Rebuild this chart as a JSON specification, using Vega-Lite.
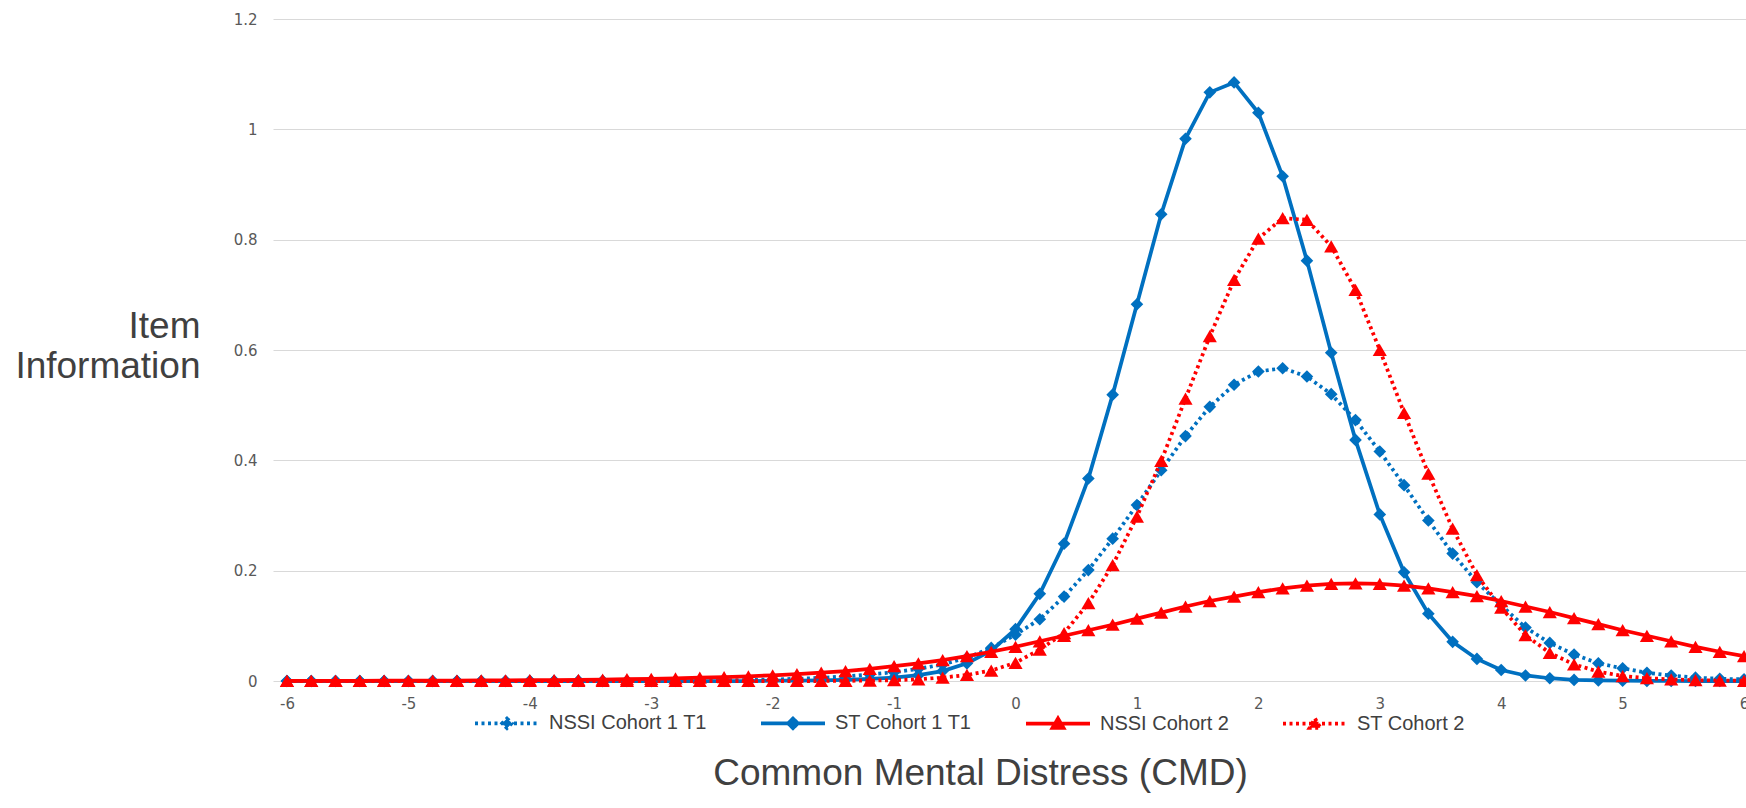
{
  "$schema": "https://vega.github.io/schema/vega-lite/v6.json",
  "width": 1473,
  "height": 662,
  "autosize": {"type": "none"},
  "padding": {"left": 273, "top": 19, "right": 0, "bottom": 127},
  "background": "#ffffff",
  "config": {"view": {"stroke": null}},
  "data": {"values": [
    {"s":"NSSI Cohort 1 T1","x":-6,"y":0},{"s":"NSSI Cohort 1 T1","x":-5.8,"y":0},{"s":"NSSI Cohort 1 T1","x":-5.6,"y":0},{"s":"NSSI Cohort 1 T1","x":-5.4,"y":0},{"s":"NSSI Cohort 1 T1","x":-5.2,"y":0},{"s":"NSSI Cohort 1 T1","x":-5,"y":0},{"s":"NSSI Cohort 1 T1","x":-4.8,"y":0},{"s":"NSSI Cohort 1 T1","x":-4.6,"y":0},{"s":"NSSI Cohort 1 T1","x":-4.4,"y":0},{"s":"NSSI Cohort 1 T1","x":-4.2,"y":0},
    {"s":"NSSI Cohort 1 T1","x":-4,"y":0.0001},{"s":"NSSI Cohort 1 T1","x":-3.8,"y":0.0001},{"s":"NSSI Cohort 1 T1","x":-3.6,"y":0.0001},{"s":"NSSI Cohort 1 T1","x":-3.4,"y":0.0002},{"s":"NSSI Cohort 1 T1","x":-3.2,"y":0.0002},{"s":"NSSI Cohort 1 T1","x":-3,"y":0.0003},{"s":"NSSI Cohort 1 T1","x":-2.8,"y":0.0005},{"s":"NSSI Cohort 1 T1","x":-2.6,"y":0.0008},{"s":"NSSI Cohort 1 T1","x":-2.4,"y":0.0012},{"s":"NSSI Cohort 1 T1","x":-2.2,"y":0.0018},
    {"s":"NSSI Cohort 1 T1","x":-2,"y":0.0027},{"s":"NSSI Cohort 1 T1","x":-1.8,"y":0.004},{"s":"NSSI Cohort 1 T1","x":-1.6,"y":0.0058},{"s":"NSSI Cohort 1 T1","x":-1.4,"y":0.0083},{"s":"NSSI Cohort 1 T1","x":-1.2,"y":0.012},{"s":"NSSI Cohort 1 T1","x":-1,"y":0.016},{"s":"NSSI Cohort 1 T1","x":-0.8,"y":0.022},{"s":"NSSI Cohort 1 T1","x":-0.6,"y":0.03},{"s":"NSSI Cohort 1 T1","x":-0.4,"y":0.042},{"s":"NSSI Cohort 1 T1","x":-0.2,"y":0.06},
    {"s":"NSSI Cohort 1 T1","x":0,"y":0.084},{"s":"NSSI Cohort 1 T1","x":0.2,"y":0.112},{"s":"NSSI Cohort 1 T1","x":0.4,"y":0.153},{"s":"NSSI Cohort 1 T1","x":0.6,"y":0.201},{"s":"NSSI Cohort 1 T1","x":0.8,"y":0.258},{"s":"NSSI Cohort 1 T1","x":1,"y":0.319},{"s":"NSSI Cohort 1 T1","x":1.2,"y":0.382},{"s":"NSSI Cohort 1 T1","x":1.4,"y":0.444},{"s":"NSSI Cohort 1 T1","x":1.6,"y":0.497},{"s":"NSSI Cohort 1 T1","x":1.8,"y":0.537},
    {"s":"NSSI Cohort 1 T1","x":2,"y":0.561},{"s":"NSSI Cohort 1 T1","x":2.2,"y":0.567},{"s":"NSSI Cohort 1 T1","x":2.4,"y":0.552},{"s":"NSSI Cohort 1 T1","x":2.6,"y":0.52},{"s":"NSSI Cohort 1 T1","x":2.8,"y":0.473},{"s":"NSSI Cohort 1 T1","x":3,"y":0.416},{"s":"NSSI Cohort 1 T1","x":3.2,"y":0.355},{"s":"NSSI Cohort 1 T1","x":3.4,"y":0.291},{"s":"NSSI Cohort 1 T1","x":3.6,"y":0.231},{"s":"NSSI Cohort 1 T1","x":3.8,"y":0.179},
    {"s":"NSSI Cohort 1 T1","x":4,"y":0.137},{"s":"NSSI Cohort 1 T1","x":4.2,"y":0.097},{"s":"NSSI Cohort 1 T1","x":4.4,"y":0.069},{"s":"NSSI Cohort 1 T1","x":4.6,"y":0.048},{"s":"NSSI Cohort 1 T1","x":4.8,"y":0.032},{"s":"NSSI Cohort 1 T1","x":5,"y":0.023},{"s":"NSSI Cohort 1 T1","x":5.2,"y":0.015},{"s":"NSSI Cohort 1 T1","x":5.4,"y":0.01},{"s":"NSSI Cohort 1 T1","x":5.6,"y":0.006},{"s":"NSSI Cohort 1 T1","x":5.8,"y":0.004},{"s":"NSSI Cohort 1 T1","x":6,"y":0.003},

    {"s":"ST Cohort 1 T1","x":-6,"y":0},{"s":"ST Cohort 1 T1","x":-5.8,"y":0},{"s":"ST Cohort 1 T1","x":-5.6,"y":0},{"s":"ST Cohort 1 T1","x":-5.4,"y":0},{"s":"ST Cohort 1 T1","x":-5.2,"y":0},{"s":"ST Cohort 1 T1","x":-5,"y":0},{"s":"ST Cohort 1 T1","x":-4.8,"y":0},{"s":"ST Cohort 1 T1","x":-4.6,"y":0},{"s":"ST Cohort 1 T1","x":-4.4,"y":0},{"s":"ST Cohort 1 T1","x":-4.2,"y":0},
    {"s":"ST Cohort 1 T1","x":-4,"y":0},{"s":"ST Cohort 1 T1","x":-3.8,"y":0},{"s":"ST Cohort 1 T1","x":-3.6,"y":0},{"s":"ST Cohort 1 T1","x":-3.4,"y":0},{"s":"ST Cohort 1 T1","x":-3.2,"y":0},{"s":"ST Cohort 1 T1","x":-3,"y":0},{"s":"ST Cohort 1 T1","x":-2.8,"y":0},{"s":"ST Cohort 1 T1","x":-2.6,"y":0},{"s":"ST Cohort 1 T1","x":-2.4,"y":0},{"s":"ST Cohort 1 T1","x":-2.2,"y":0},
    {"s":"ST Cohort 1 T1","x":-2,"y":0.0005},{"s":"ST Cohort 1 T1","x":-1.8,"y":0.0008},{"s":"ST Cohort 1 T1","x":-1.6,"y":0.0013},{"s":"ST Cohort 1 T1","x":-1.4,"y":0.0022},{"s":"ST Cohort 1 T1","x":-1.2,"y":0.0037},{"s":"ST Cohort 1 T1","x":-1,"y":0.0062},{"s":"ST Cohort 1 T1","x":-0.8,"y":0.0105},{"s":"ST Cohort 1 T1","x":-0.6,"y":0.018},{"s":"ST Cohort 1 T1","x":-0.4,"y":0.032},{"s":"ST Cohort 1 T1","x":-0.2,"y":0.055},
    {"s":"ST Cohort 1 T1","x":0,"y":0.094},{"s":"ST Cohort 1 T1","x":0.2,"y":0.158},{"s":"ST Cohort 1 T1","x":0.4,"y":0.249},{"s":"ST Cohort 1 T1","x":0.6,"y":0.367},{"s":"ST Cohort 1 T1","x":0.8,"y":0.519},{"s":"ST Cohort 1 T1","x":1,"y":0.683},{"s":"ST Cohort 1 T1","x":1.2,"y":0.846},{"s":"ST Cohort 1 T1","x":1.4,"y":0.983},{"s":"ST Cohort 1 T1","x":1.6,"y":1.067},{"s":"ST Cohort 1 T1","x":1.8,"y":1.085},
    {"s":"ST Cohort 1 T1","x":2,"y":1.03},{"s":"ST Cohort 1 T1","x":2.2,"y":0.915},{"s":"ST Cohort 1 T1","x":2.4,"y":0.762},{"s":"ST Cohort 1 T1","x":2.6,"y":0.595},{"s":"ST Cohort 1 T1","x":2.8,"y":0.437},{"s":"ST Cohort 1 T1","x":3,"y":0.302},{"s":"ST Cohort 1 T1","x":3.2,"y":0.197},{"s":"ST Cohort 1 T1","x":3.4,"y":0.122},{"s":"ST Cohort 1 T1","x":3.6,"y":0.071},{"s":"ST Cohort 1 T1","x":3.8,"y":0.04},
    {"s":"ST Cohort 1 T1","x":4,"y":0.02},{"s":"ST Cohort 1 T1","x":4.2,"y":0.01},{"s":"ST Cohort 1 T1","x":4.4,"y":0.005},{"s":"ST Cohort 1 T1","x":4.6,"y":0.002},{"s":"ST Cohort 1 T1","x":4.8,"y":0.001},{"s":"ST Cohort 1 T1","x":5,"y":0.0005},{"s":"ST Cohort 1 T1","x":5.2,"y":0.0002},{"s":"ST Cohort 1 T1","x":5.4,"y":0.0001},{"s":"ST Cohort 1 T1","x":5.6,"y":0},{"s":"ST Cohort 1 T1","x":5.8,"y":0},{"s":"ST Cohort 1 T1","x":6,"y":0},

    {"s":"NSSI Cohort 2","x":-6,"y":0.0002},{"s":"NSSI Cohort 2","x":-5.8,"y":0.0003},{"s":"NSSI Cohort 2","x":-5.6,"y":0.0003},{"s":"NSSI Cohort 2","x":-5.4,"y":0.0004},{"s":"NSSI Cohort 2","x":-5.2,"y":0.0005},{"s":"NSSI Cohort 2","x":-5,"y":0.0006},{"s":"NSSI Cohort 2","x":-4.8,"y":0.0007},{"s":"NSSI Cohort 2","x":-4.6,"y":0.0008},{"s":"NSSI Cohort 2","x":-4.4,"y":0.001},{"s":"NSSI Cohort 2","x":-4.2,"y":0.0012},
    {"s":"NSSI Cohort 2","x":-4,"y":0.0015},{"s":"NSSI Cohort 2","x":-3.8,"y":0.0018},{"s":"NSSI Cohort 2","x":-3.6,"y":0.0022},{"s":"NSSI Cohort 2","x":-3.4,"y":0.0027},{"s":"NSSI Cohort 2","x":-3.2,"y":0.0033},{"s":"NSSI Cohort 2","x":-3,"y":0.004},{"s":"NSSI Cohort 2","x":-2.8,"y":0.0049},{"s":"NSSI Cohort 2","x":-2.6,"y":0.0059},{"s":"NSSI Cohort 2","x":-2.4,"y":0.0071},{"s":"NSSI Cohort 2","x":-2.2,"y":0.0086},
    {"s":"NSSI Cohort 2","x":-2,"y":0.0104},{"s":"NSSI Cohort 2","x":-1.8,"y":0.0125},{"s":"NSSI Cohort 2","x":-1.6,"y":0.015},{"s":"NSSI Cohort 2","x":-1.4,"y":0.018},{"s":"NSSI Cohort 2","x":-1.2,"y":0.022},{"s":"NSSI Cohort 2","x":-1,"y":0.027},{"s":"NSSI Cohort 2","x":-0.8,"y":0.032},{"s":"NSSI Cohort 2","x":-0.6,"y":0.038},{"s":"NSSI Cohort 2","x":-0.4,"y":0.045},{"s":"NSSI Cohort 2","x":-0.2,"y":0.053},
    {"s":"NSSI Cohort 2","x":0,"y":0.062},{"s":"NSSI Cohort 2","x":0.2,"y":0.072},{"s":"NSSI Cohort 2","x":0.4,"y":0.082},{"s":"NSSI Cohort 2","x":0.6,"y":0.092},{"s":"NSSI Cohort 2","x":0.8,"y":0.102},{"s":"NSSI Cohort 2","x":1,"y":0.113},{"s":"NSSI Cohort 2","x":1.2,"y":0.124},{"s":"NSSI Cohort 2","x":1.4,"y":0.135},{"s":"NSSI Cohort 2","x":1.6,"y":0.145},{"s":"NSSI Cohort 2","x":1.8,"y":0.153},
    {"s":"NSSI Cohort 2","x":2,"y":0.161},{"s":"NSSI Cohort 2","x":2.2,"y":0.168},{"s":"NSSI Cohort 2","x":2.4,"y":0.173},{"s":"NSSI Cohort 2","x":2.6,"y":0.176},{"s":"NSSI Cohort 2","x":2.8,"y":0.177},{"s":"NSSI Cohort 2","x":3,"y":0.176},{"s":"NSSI Cohort 2","x":3.2,"y":0.173},{"s":"NSSI Cohort 2","x":3.4,"y":0.168},{"s":"NSSI Cohort 2","x":3.6,"y":0.161},{"s":"NSSI Cohort 2","x":3.8,"y":0.154},
    {"s":"NSSI Cohort 2","x":4,"y":0.145},{"s":"NSSI Cohort 2","x":4.2,"y":0.135},{"s":"NSSI Cohort 2","x":4.4,"y":0.125},{"s":"NSSI Cohort 2","x":4.6,"y":0.114},{"s":"NSSI Cohort 2","x":4.8,"y":0.103},{"s":"NSSI Cohort 2","x":5,"y":0.092},{"s":"NSSI Cohort 2","x":5.2,"y":0.082},{"s":"NSSI Cohort 2","x":5.4,"y":0.072},{"s":"NSSI Cohort 2","x":5.6,"y":0.062},{"s":"NSSI Cohort 2","x":5.8,"y":0.053},{"s":"NSSI Cohort 2","x":6,"y":0.045},

    {"s":"ST Cohort 2","x":-6,"y":0},{"s":"ST Cohort 2","x":-5.8,"y":0},{"s":"ST Cohort 2","x":-5.6,"y":0},{"s":"ST Cohort 2","x":-5.4,"y":0},{"s":"ST Cohort 2","x":-5.2,"y":0},{"s":"ST Cohort 2","x":-5,"y":0},{"s":"ST Cohort 2","x":-4.8,"y":0},{"s":"ST Cohort 2","x":-4.6,"y":0},{"s":"ST Cohort 2","x":-4.4,"y":0},{"s":"ST Cohort 2","x":-4.2,"y":0},
    {"s":"ST Cohort 2","x":-4,"y":0},{"s":"ST Cohort 2","x":-3.8,"y":0},{"s":"ST Cohort 2","x":-3.6,"y":0},{"s":"ST Cohort 2","x":-3.4,"y":0},{"s":"ST Cohort 2","x":-3.2,"y":0},{"s":"ST Cohort 2","x":-3,"y":0},{"s":"ST Cohort 2","x":-2.8,"y":0},{"s":"ST Cohort 2","x":-2.6,"y":0},{"s":"ST Cohort 2","x":-2.4,"y":0},{"s":"ST Cohort 2","x":-2.2,"y":0},
    {"s":"ST Cohort 2","x":-2,"y":0},{"s":"ST Cohort 2","x":-1.8,"y":0},{"s":"ST Cohort 2","x":-1.6,"y":0},{"s":"ST Cohort 2","x":-1.4,"y":0.0003},{"s":"ST Cohort 2","x":-1.2,"y":0.0007},{"s":"ST Cohort 2","x":-1,"y":0.0015},{"s":"ST Cohort 2","x":-0.8,"y":0.003},{"s":"ST Cohort 2","x":-0.6,"y":0.0062},{"s":"ST Cohort 2","x":-0.4,"y":0.011},{"s":"ST Cohort 2","x":-0.2,"y":0.019},
    {"s":"ST Cohort 2","x":0,"y":0.033},{"s":"ST Cohort 2","x":0.2,"y":0.057},{"s":"ST Cohort 2","x":0.4,"y":0.087},{"s":"ST Cohort 2","x":0.6,"y":0.141},{"s":"ST Cohort 2","x":0.8,"y":0.21},{"s":"ST Cohort 2","x":1,"y":0.298},{"s":"ST Cohort 2","x":1.2,"y":0.399},{"s":"ST Cohort 2","x":1.4,"y":0.512},{"s":"ST Cohort 2","x":1.6,"y":0.625},{"s":"ST Cohort 2","x":1.8,"y":0.727},
    {"s":"ST Cohort 2","x":2,"y":0.802},{"s":"ST Cohort 2","x":2.2,"y":0.839},{"s":"ST Cohort 2","x":2.4,"y":0.836},{"s":"ST Cohort 2","x":2.6,"y":0.788},{"s":"ST Cohort 2","x":2.8,"y":0.709},{"s":"ST Cohort 2","x":3,"y":0.6},{"s":"ST Cohort 2","x":3.2,"y":0.486},{"s":"ST Cohort 2","x":3.4,"y":0.376},{"s":"ST Cohort 2","x":3.6,"y":0.276},{"s":"ST Cohort 2","x":3.8,"y":0.192},
    {"s":"ST Cohort 2","x":4,"y":0.133},{"s":"ST Cohort 2","x":4.2,"y":0.083},{"s":"ST Cohort 2","x":4.4,"y":0.051},{"s":"ST Cohort 2","x":4.6,"y":0.03},{"s":"ST Cohort 2","x":4.8,"y":0.017},{"s":"ST Cohort 2","x":5,"y":0.009},{"s":"ST Cohort 2","x":5.2,"y":0.005},{"s":"ST Cohort 2","x":5.4,"y":0.003},{"s":"ST Cohort 2","x":5.6,"y":0.0015},{"s":"ST Cohort 2","x":5.8,"y":0.0008},{"s":"ST Cohort 2","x":6,"y":0.0004}
  ]},
  "encoding": {
    "x": {
      "field": "x", "type": "quantitative",
      "scale": {"domain": [-6.115, 6.016], "nice": false, "zero": false},
      "axis": {
        "values": [-6,-5,-4,-3,-2,-1,0,1,2,3,4,5,6],
        "labelExpr": "'' + datum.value",
        "grid": false, "domain": false, "ticks": false, "tickSize": 0,
        "labelPadding": 15, "labelFont": "DejaVu Sans", "labelFontSize": 15, "labelColor": "#595959",
        "labelFlush": false, "labelOverlap": false, "labelBound": false,
        "title": "Common Mental Distress (CMD)",
        "titleFont": "Liberation Sans", "titleFontSize": 37, "titleFontWeight": "normal", "titleColor": "#404040",
        "titleX": 707, "titleY": 103, "titleAlign": "center", "titleBaseline": "alphabetic"
      }
    },
    "y": {
      "field": "y", "type": "quantitative",
      "scale": {"domain": [0, 1.2], "nice": false, "zero": false},
      "axis": {
        "values": [0, 0.2, 0.4, 0.6, 0.8, 1, 1.2],
        "format": "~g",
        "grid": true, "gridColor": "#d9d9d9", "gridWidth": 1,
        "domain": false, "ticks": false, "tickSize": 0,
        "labelPadding": 16, "labelFont": "DejaVu Sans", "labelFontSize": 15, "labelColor": "#595959",
        "title": ["Item", "Information"],
        "titleFont": "Liberation Sans", "titleFontSize": 37, "titleFontWeight": "normal", "titleColor": "#404040",
        "titleAngle": 0, "titleAlign": "right", "titleBaseline": "alphabetic",
        "titleX": -73, "titleY": 318, "titleLineHeight": 40
      }
    },
    "color": {
      "field": "s", "type": "nominal",
      "scale": {
        "domain": ["NSSI Cohort 1 T1", "ST Cohort 1 T1", "NSSI Cohort 2", "ST Cohort 2"],
        "range": ["#0070C0", "#0070C0", "#FF0000", "#FF0000"]
      },
      "legend": {
        "orient": "none", "legendX": 200, "legendY": 670,
        "direction": "horizontal", "columns": 4, "columnPadding": 46,
        "title": null, "symbolSize": 4096, "symbolStrokeWidth": 3.75, "symbolOpacity": 1,
        "labelFont": "Liberation Sans", "labelFontSize": 20, "labelColor": "#404040", "labelOffset": 8, "labelLimit": 0,
        "encode": {
          "symbols": {
            "update": {
              "shape": {"signal": "(datum.value == 'NSSI Cohort 1 T1' || datum.value == 'ST Cohort 1 T1') ? 'M-1,0H1M0,-0.15L0.15,0L0,0.15L-0.15,0Z' : 'M-1,0H1M0,-0.16L0.17,0.13L-0.17,0.13Z'"},
              "strokeDash": {"signal": "(datum.value == 'NSSI Cohort 1 T1' || datum.value == 'ST Cohort 2') ? [3, 3.5] : [1, 0]"},
              "fill": {"signal": "(datum.value == 'NSSI Cohort 1 T1' || datum.value == 'ST Cohort 1 T1') ? '#0070C0' : '#FF0000'"},
              "stroke": {"signal": "(datum.value == 'NSSI Cohort 1 T1' || datum.value == 'ST Cohort 1 T1') ? '#0070C0' : '#FF0000'"},
              "strokeWidth": {"value": 3.75},
              "opacity": {"value": 1}
            }
          }
        }
      }
    }
  },
  "layer": [
    {
      "transform": [{"filter": "datum.s == 'NSSI Cohort 1 T1'"}],
      "mark": {"type": "line", "strokeWidth": 3.75, "strokeDash": [3, 3.5], "point": {"shape": "diamond", "size": 160, "filled": true, "opacity": 1}}
    },
    {
      "transform": [{"filter": "datum.s == 'ST Cohort 1 T1'"}],
      "mark": {"type": "line", "strokeWidth": 3.75, "point": {"shape": "diamond", "size": 160, "filled": true, "opacity": 1}}
    },
    {
      "transform": [{"filter": "datum.s == 'NSSI Cohort 2'"}],
      "mark": {"type": "line", "strokeWidth": 3.75, "point": {"shape": "triangle-up", "size": 200, "filled": true, "opacity": 1}}
    },
    {
      "transform": [{"filter": "datum.s == 'ST Cohort 2'"}],
      "mark": {"type": "line", "strokeWidth": 3.75, "strokeDash": [3, 3.5], "point": {"shape": "triangle-up", "size": 200, "filled": true, "opacity": 1}}
    }
  ]
}
